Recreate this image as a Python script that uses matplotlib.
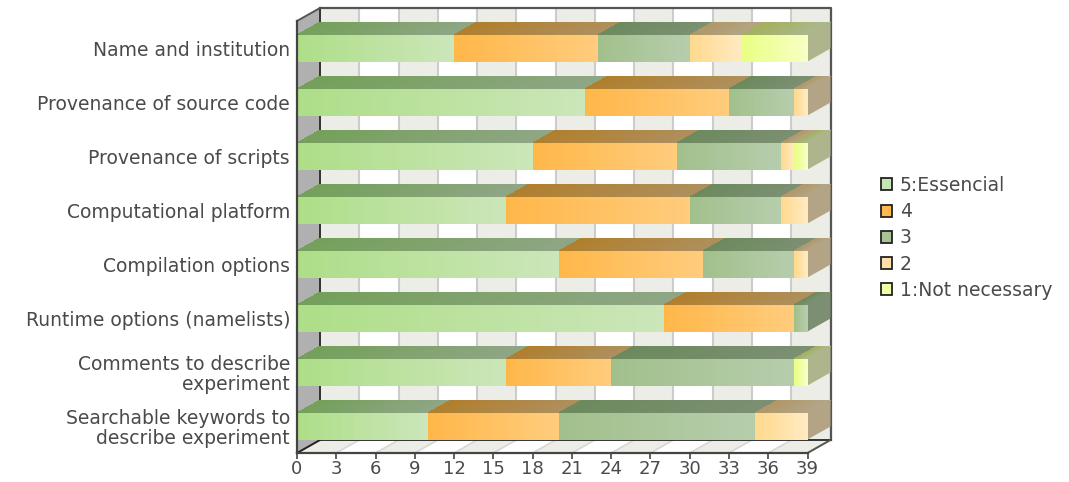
import numpy as np
import matplotlib
matplotlib.use("Agg")
import matplotlib.pyplot as plt
from matplotlib.colors import to_rgb
from matplotlib.patches import Patch, Polygon

plt.rcParams["font.family"] = ["DejaVu Sans"]

categories = ["Name and institution", "Provenance of source code", "Provenance of scripts",
              "Computational platform", "Compilation options", "Runtime options (namelists)",
              "Comments to describe\nexperiment", "Searchable keywords to\ndescribe experiment"]
series_names = ["5:Essencial", "4", "3", "2", "1:Not necessary"]
essential = [12, 22, 18, 16, 20, 28, 16, 10]
four = [11, 11, 11, 14, 11, 10, 8, 10]
three = [7, 5, 8, 7, 7, 1, 14, 15]
two = [4, 1, 1, 2, 1, 0, 0, 4]
not_needed = [5, 0, 1, 0, 0, 0, 1, 0]
series = [essential, four, three, two, not_needed]
x_ticks = list(range(0, 40, 3))

# front, top, side colours: (left, right) of each gradient
front_cols = [("#aede88", "#cbe6b9"), ("#ffb74a", "#ffcc7c"), ("#a2c08c", "#b6cdac"),
              ("#ffd98e", "#ffeac0"), ("#e9ff86", "#f8ffc2")]
top_cols = [("#74a05a", "#8fa685"), ("#b07f2e", "#ae8f5c"), ("#6c8a5e", "#7c8f72"),
            ("#b09868", "#b2a484"), ("#a4b05e", "#aab88a")]
side_cols = ["#8fa685", "#ae9a72", "#7c8f72", "#b2a484", "#aeb48c"]
legend_cols = ["#c6e6b4", "#ffb84f", "#a8c296", "#ffdfa5", "#eeffa8"]
text_col = "#4a4a4a"

W, H = 1069, 482
fig = plt.figure(figsize=(W / 100, H / 100), dpi=100)
ax = fig.add_axes([297 / W, (H - 453) / H, 510.5 / W, 432 / H])
ax.set_xlim(0, 39)
ax.set_ylim(8, 0)

dx = 23 / (510.5 / 39)   # depth in x units
dy = 13 / 54             # depth in rows
bar_h = 0.5


def grad(x0, x1, y0, y1, c0, c1, zorder, shift=0.0):
    # one gradient quad, shift pushes the far edge to the right
    n = max(int((x1 - x0) * 3), 12)
    xs = np.linspace(x0, x1, n + 1)
    X = np.vstack([xs + shift, xs])
    Y = np.vstack([np.full(n + 1, y0), np.full(n + 1, y1)])
    t = np.linspace(0, 1, n)[:, None]
    cols = np.array(to_rgb(c0)) * (1 - t) + np.array(to_rgb(c1)) * t
    m = ax.pcolormesh(X, Y, cols[None, :, :], shading="flat", zorder=zorder,
                      clip_on=False, antialiased=False, linewidth=0, edgecolors="none")
    return m


def poly(pts, color, zorder, ec="none", lw=0):
    ax.add_patch(Polygon(pts, closed=True, fc=color, ec=ec, lw=lw, zorder=zorder, clip_on=False))


# back wall and floor bands
for i, t in enumerate(x_ticks[:-1]):
    c = "#ecede7" if i % 2 == 0 else "#ffffff"
    poly([(t + dx, -dy), (t + 3 + dx, -dy), (t + 3 + dx, 8 - dy), (t + dx, 8 - dy)], c, 1)
    poly([(t, 8), (t + 3, 8), (t + 3 + dx, 8 - dy), (t + dx, 8 - dy)], c, 1)
for t in x_ticks:
    ax.plot([t + dx, t + dx], [-dy, 8 - dy], color="#cccccc", lw=1.5, zorder=2, clip_on=False)
    ax.plot([t, t + dx], [8, 8 - dy], color="#d8d8d2", lw=1.2, zorder=2, clip_on=False)
# strip past 39 on the right
poly([(39, 8), (39 + dx, 8 - dy), (39 + dx, -dy), (39, -dy)], "#ecede7", 1)

# left wall
poly([(0, 0), (dx, -dy), (dx, 8 - dy), (0, 8)], "#b0b0b0", 3)

# frame
frame = "#555555"
ax.plot([dx, 39 + dx, 39 + dx], [-dy, -dy, 8 - dy], color=frame, lw=1.6, zorder=3, clip_on=False)
ax.plot([dx, dx], [-dy, 8 - dy], color="#333333", lw=1.4, zorder=3, clip_on=False)
ax.plot([dx, 39 + dx], [8 - dy, 8 - dy], color="#333333", lw=1.4, zorder=3, clip_on=False)
ax.plot([0, dx], [0, -dy], color=frame, lw=1.4, zorder=3, clip_on=False)
ax.plot([0, dx], [8, 8 - dy], color="#222222", lw=1.4, zorder=3, clip_on=False)
ax.plot([39, 39 + dx], [8, 8 - dy], color=frame, lw=1.4, zorder=3, clip_on=False)

# stacked bars
for r in range(len(categories)):
    y_front_top = r + 0.5 - bar_h / 2
    y_front_bot = r + 0.5 + bar_h / 2
    left = 0
    last = 0
    for s, vals in enumerate(series):
        v = vals[r]
        if v == 0:
            continue
        grad(left, left + v, y_front_top - dy, y_front_top, top_cols[s][0], top_cols[s][1], 4, shift=dx)
        grad(left, left + v, y_front_top, y_front_bot, front_cols[s][0], front_cols[s][1], 5)
        left += v
        last = s
    poly([(left, y_front_top), (left + dx, y_front_top - dy),
          (left + dx, y_front_bot - dy), (left, y_front_bot)], side_cols[last], 4)

for s in ["top", "right"]:
    ax.spines[s].set_visible(False)
for s in ["left", "bottom"]:
    ax.spines[s].set_color("#444444")
    ax.spines[s].set_linewidth(1.6)
    ax.spines[s].set_zorder(6)

ax.set_xticks(x_ticks)
ax.set_yticks(np.arange(len(categories)) + 0.5)
ax.set_yticklabels(categories, linespacing=1.1)
ax.tick_params(axis="y", length=0, pad=5, labelsize=13.5, labelcolor=text_col)
ax.tick_params(axis="x", length=4, width=1.2, color="#444444", pad=1, labelsize=13, labelcolor=text_col)

handles = [Patch(fc=c, ec="#222222", lw=1.3) for c in legend_cols]
fig.legend(handles, series_names, loc="upper left", bbox_to_anchor=(881 / W, 1 - 176 / H),
           frameon=False, fontsize=13.5, labelcolor=text_col, handlelength=0.6, handleheight=0.6,
           handletextpad=0.4, labelspacing=0.385, borderpad=0, borderaxespad=0)

fig.savefig("out.png", dpi=100)
